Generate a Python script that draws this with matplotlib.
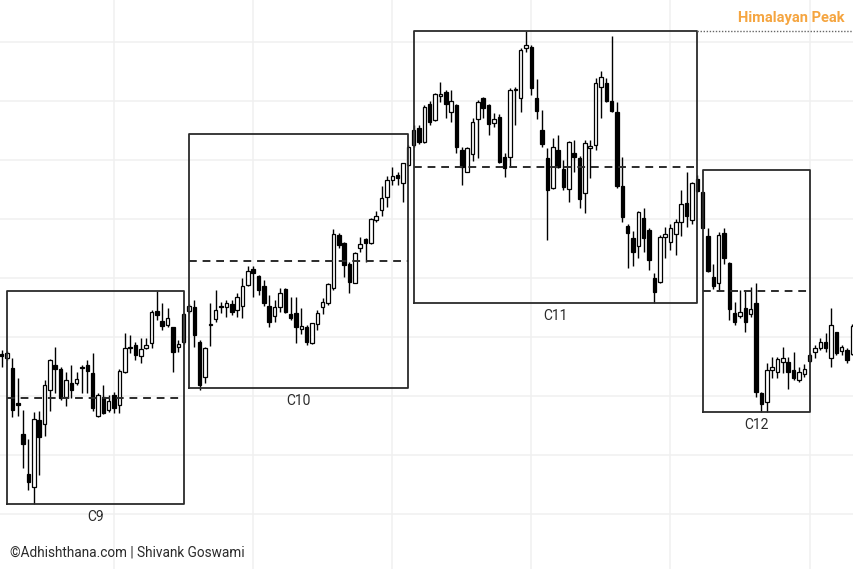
import numpy as np
import matplotlib
matplotlib.use("Agg")
import matplotlib.pyplot as plt

# candle data (price units, arbitrary scale)
opens = [215, 211, 201, 166, 135, 95, 82, 149, 145, 179,
         204, 200, 172, 186, 186, 202, 204, 196, 153, 172,
         159, 174, 164, 197, 222, 224, 213, 221, 226, 258,
         248, 244, 242, 222, 227, 258, 262, 227, 192, 244,
         250, 263, 262, 265, 259, 263, 284, 300, 293, 283,
         263, 253, 262, 280, 255, 256, 240, 242, 226, 245,
         262, 266, 281, 334, 326, 305, 286, 321, 330, 326,
         349, 359, 372, 389, 394, 386, 404, 424, 441, 427,
         465, 449, 473, 477, 457, 464, 419, 397, 415, 450,
         471, 464, 446, 452, 412, 412, 479, 471, 521, 522,
         471, 439, 411, 381, 419, 400, 380, 416, 411, 376,
         421, 424, 482, 486, 468, 457, 383, 343, 331, 323,
         351, 339, 291, 287, 332, 327, 335, 347, 366, 349,
         390, 377, 333, 292, 286, 336, 306, 256, 253, 261,
         255, 266, 176, 167, 199, 197, 207, 207, 199, 189,
         195, 208, 217, 221, 227, 211, 237, 218, 219, 215]
highs = [219, 218, 211, 191, 159, 130, 157, 158, 189, 210,
         222, 202, 197, 204, 197, 204, 209, 216, 176, 184,
         174, 177, 200, 236, 234, 227, 231, 231, 259, 278,
         266, 261, 242, 229, 256, 265, 269, 229, 222, 266,
         279, 267, 269, 269, 276, 291, 303, 303, 294, 289,
         274, 269, 281, 281, 272, 272, 261, 244, 246, 259,
         271, 286, 340, 336, 327, 307, 317, 332, 331, 351,
         358, 383, 393, 402, 397, 406, 424, 444, 444, 464,
         468, 476, 487, 479, 479, 465, 422, 422, 451, 469,
         472, 465, 456, 455, 416, 481, 482, 521, 538, 524,
         490, 459, 421, 431, 434, 409, 428, 429, 413, 429,
         429, 491, 498, 491, 533, 467, 412, 345, 338, 358,
         361, 341, 296, 334, 342, 345, 350, 379, 397, 387,
         394, 377, 341, 305, 337, 341, 307, 267, 279, 279,
         282, 286, 177, 206, 212, 212, 222, 212, 217, 202,
         205, 216, 224, 231, 236, 261, 237, 224, 221, 245]
lows = [202, 209, 152, 153, 101, 79, 65, 94, 133, 158,
        176, 169, 163, 171, 184, 176, 176, 158, 152, 155,
        157, 156, 156, 196, 216, 209, 206, 220, 221, 249,
        239, 242, 197, 217, 225, 256, 222, 179, 186, 223,
        247, 256, 252, 254, 252, 251, 283, 272, 274, 263,
        242, 247, 257, 256, 249, 226, 235, 224, 225, 239,
        255, 264, 279, 321, 292, 276, 286, 317, 307, 325,
        347, 353, 362, 384, 384, 367, 403, 422, 425, 426,
        444, 448, 467, 451, 447, 416, 384, 397, 408, 411,
        451, 434, 442, 406, 392, 402, 444, 457, 517, 474,
        450, 422, 329, 380, 401, 379, 367, 397, 361, 356,
        391, 419, 451, 467, 457, 381, 347, 301, 303, 311,
        317, 299, 266, 286, 311, 319, 314, 333, 342, 345,
        377, 341, 297, 280, 279, 305, 249, 244, 251, 237,
        252, 172, 157, 157, 191, 191, 196, 180, 189, 187,
        192, 207, 211, 219, 217, 202, 214, 214, 206, 214]
closes = [213, 216, 159, 164, 125, 87, 150, 132, 184, 209,
          200, 171, 189, 179, 190, 201, 198, 161, 174, 156,
          168, 161, 198, 221, 221, 214, 220, 224, 257, 254,
          243, 251, 217, 225, 255, 263, 234, 184, 221, 245,
          259, 262, 266, 257, 272, 283, 298, 296, 279, 266,
          247, 262, 276, 257, 251, 242, 243, 227, 246, 256,
          267, 285, 335, 324, 304, 287, 316, 325, 326, 350,
          353, 371, 389, 393, 391, 406, 422, 439, 427, 462,
          447, 475, 475, 465, 468, 422, 402, 421, 447, 467,
          461, 445, 450, 407, 401, 479, 480, 519, 524, 481,
          458, 425, 379, 422, 402, 382, 427, 412, 370, 426,
          423, 486, 492, 468, 458, 383, 352, 336, 317, 357,
          331, 309, 277, 332, 335, 341, 347, 365, 353, 386,
          378, 341, 298, 283, 334, 311, 260, 247, 257, 247,
          260, 177, 165, 199, 202, 210, 211, 197, 191, 197,
          200, 214, 221, 227, 221, 244, 216, 222, 209, 243]

# consolidation boxes: (left, right, low, high, label)
box_left = [1, 35, 77, 131]
box_right = [34, 76, 130, 151]
box_low = [65, 181, 266, 157]
box_high = [278, 435, 538, 399]
box_names = ["C9", "C10", "C11", "C12"]

peak_level = 538
hgrid = [55, 114, 173, 232, 291, 350, 409, 468, 527]
vgrid = [21, 47, 73, 99, 125, 151]

plt.rcParams['font.family'] = ['Roboto', 'DejaVu Sans']

fig = plt.figure(figsize=(8.54, 5.69), dpi=100)
ax = fig.add_axes([0, 0, 1, 1])
ax.set_xlim(-0.32, 159.3)
ax.set_ylim(0, 569)
ax.axis('off')

for g in hgrid:
    ax.axhline(g, color='#f0f0f0', lw=1.1, zorder=0)
for g in vgrid:
    ax.axvline(g, color='#f0f0f0', lw=1.1, zorder=0)

o = np.array(opens)
h = np.array(highs)
l = np.array(lows)
c = np.array(closes)
x = np.arange(len(o))
up = c >= o

ax.vlines(x, l, h, color='black', lw=1, zorder=2)
body_lo = np.minimum(o, c)
body_h = np.maximum(np.abs(c - o), 1)
ax.bar(x[up], body_h[up], bottom=body_lo[up], width=0.65,
       color='white', edgecolor='black', linewidth=0.9, zorder=3)
ax.bar(x[~up], body_h[~up], bottom=body_lo[~up], width=0.65,
       color='black', edgecolor='black', linewidth=0.9, zorder=3)

for bl, br, lo, hi, name in zip(box_left, box_right, box_low, box_high, box_names):
    ax.plot([bl, br, br, bl, bl], [lo, lo, hi, hi, lo], color='#2b2b2b', lw=1.3, zorder=4)
    mid = (lo + hi) / 2
    ax.plot([bl, br], [mid, mid], color='#2b2b2b', lw=1.4, ls=(0, (4, 3)), zorder=4)
    ax.text((bl + br) / 2, lo - 13, name, ha='center', va='center',
            fontsize=10, color='#2b2b2b')

ax.plot([130, 159.5], [peak_level, peak_level], color='#666666', lw=1,
        ls=(0, (1, 1.2)), zorder=4)
ax.text(157.6, 551, "Himalayan Peak", ha='right', va='center',
        fontsize=10.5, fontweight='bold', color='#f5a540')

fig.text(10 / 854, 1 - 552 / 569, "©Adhishthana.com | Shivank Goswami",
         ha='left', va='center', fontsize=9.8, color='#2b2b2b')

plt.savefig('out.png', dpi=100)
